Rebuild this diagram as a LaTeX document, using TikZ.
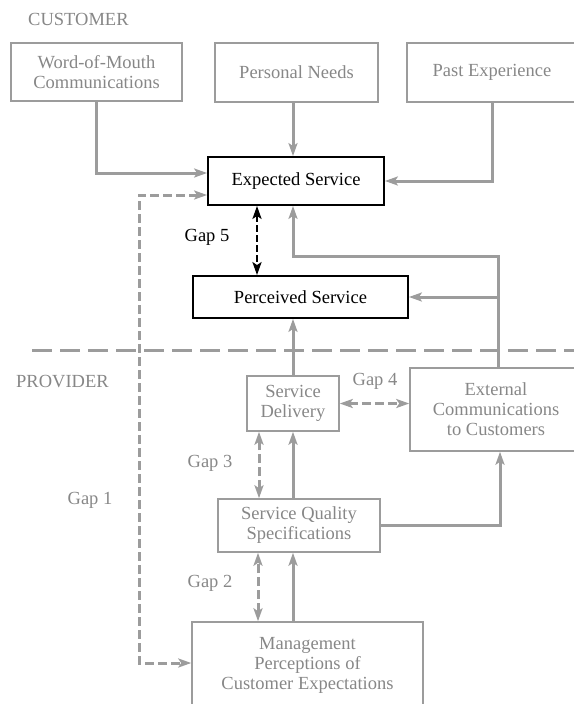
\documentclass[tikz,border=0pt]{standalone}
\usepackage{fontspec}
\setmainfont{Liberation Serif}
\usetikzlibrary{arrows.meta}
\definecolor{lg}{HTML}{9C9C9C}
\definecolor{tg}{HTML}{878787}
\begin{document}
\begin{tikzpicture}[x=1pt,y=-1pt,
  txt/.style={font=\fontsize{18.5}{20}\selectfont},
  box/.style={txt, draw=lg, line width=1.5pt, text=tg, align=center, inner sep=0pt},
  bbox/.style={txt, draw=black, line width=1.8pt, text=black, align=center, inner sep=0pt},
  tip/.tip={Stealth[length=13pt,width=9pt,inset=3pt]},
  conn/.style={draw=lg, line width=3pt, -tip},
  gapd/.style={draw=lg, line width=3pt, dash pattern=on 9pt off 4pt, tip-tip},
  gapb/.style={draw=black, line width=2.6pt, dash pattern=on 7pt off 3pt, tip-tip},
  sepline/.style={draw=lg, line width=3pt, dash pattern=on 20pt off 8pt},
  glabel/.style={txt, text=tg, inner sep=0pt},
]
\useasboundingbox (0,0) rectangle (573,704);

% headings
\node[txt, text=tg, anchor=west, inner sep=0pt] (cust) at (28,19) {CUSTOMER};
\node[txt, text=tg, anchor=west, inner sep=0pt] (prov) at (16,382) {PROVIDER};

% boxes
\node[box, minimum width=171pt, minimum height=58pt] (wom) at (96.5,72) {Word-of-Mouth\\Communications};
\node[box, minimum width=163pt, minimum height=59pt] (pn) at (296.5,72.5) {Personal Needs};
\node[box, minimum width=170pt, minimum height=59pt] (pe) at (492,72.5) {Past Experience};
\node[bbox, minimum width=176pt, minimum height=48pt] (es) at (296,181) {Expected Service};
\node[bbox, minimum width=215pt, minimum height=42pt] (ps) at (300.5,297) {Perceived Service};
\node[box, minimum width=92pt, minimum height=55pt] (sd) at (293,403.5) {Service\\Delivery};
\node[box, minimum width=172pt, minimum height=83pt] (ec) at (496,409.5) {External\\Communications\\to Customers};
\node[box, minimum width=162pt, minimum height=53pt] (sqs) at (299,525.5) {Service Quality\\Specifications};
\node[box, minimum width=231pt, minimum height=86pt] (mp) at (307.5,665) {Management\\Perceptions of\\Customer Expectations};

% gap labels
\node[glabel, text=black] (l5) at (207,237) {Gap 5};
\node[glabel] (l4) at (375,381) {Gap 4};
\node[glabel] (l3) at (210,463) {Gap 3};
\node[glabel] (l2) at (210,583) {Gap 2};
\node[glabel] (l1) at (90,500) {Gap 1};

% separator
\coordinate (sepL) at (32,350);
\coordinate (sepR) at (580,350);
\draw[sepline] (sepL) -- (sepR);

% customer side connectors
\draw[conn] (wom.south) |- ([yshift=8pt]es.west);
\draw[conn] ([xshift=-3.5pt]pn.south) -- ([xshift=-3.5pt]pn.south |- es.north);
\draw[conn] (pe.south) |- (es.east);

% gap 1
\coordinate (g1a) at (139,195);
\coordinate (g1b) at (139,663);
\draw[gapd] (g1a -| es.west) -- (g1a) -- (g1b) -- (g1b -| mp.west);

% gap 5
\coordinate (g5) at (257,0);
\draw[gapb] (g5 |- es.south) -- (g5 |- ps.north);

% external communications feedback
\coordinate (j1) at (498,256);
\draw[conn] (ec.north -| j1) -- (j1) -| ([xshift=-3pt]es.south);
\draw[conn] (j1 |- ps.east) -- (ps.east);

% service delivery to perceived
\draw[conn] (sd.north) -- (sd.north |- ps.south);

% gap 4
\draw[gapd] (sd.east) -- (sd.east -| ec.west);

% gap 3
\coordinate (g3) at (259,0);
\draw[gapd] (g3 |- sqs.north) -- (g3 |- sd.south);
\draw[conn] (sqs.north -| sd.south) -- (sd.south);

% specs to external communications
\draw[conn] (sqs.east) -| ([xshift=4pt]ec.south);

% gap 2
\coordinate (g2) at (258,0);
\draw[gapd] (g2 |- mp.north) -- (g2 |- sqs.south);
\draw[conn] (mp.north -| sd.south) -- (sd.south |- sqs.south);
\end{tikzpicture}
\end{document}
